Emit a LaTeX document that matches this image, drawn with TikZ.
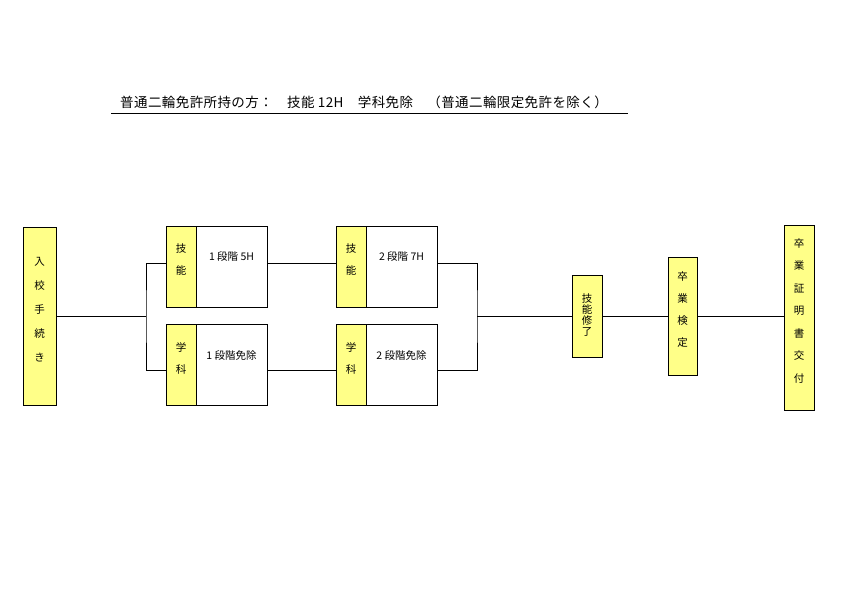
\documentclass[tikz,border=0pt]{standalone}
\usepackage{fontspec}
\setmainfont{Noto Sans CJK JP}
\definecolor{kiiro}{RGB}{255,255,136}

\begin{document}
\begin{tikzpicture}[x=1pt,y=-1pt,line width=0.7pt,
	kbox/.style={draw, fill=kiiro, align=center, inner sep=0pt, text depth=14pt},
	sbox/.style={draw, fill=white, minimum width=71pt, minimum height=81pt, inner sep=0pt},
	dan/.style={anchor=center, yshift=-31pt, font=\fontsize{10.5}{12}\selectfont}]
\useasboundingbox (0,0) rectangle (842,595);

% title
\node (title) at (364,102) {\fontsize{13.5}{15}\selectfont\addfontfeature{LetterSpace=3} 普通二輪免許所持の方：　技能 12H　学科免除　（普通二輪限定免許を除く）};
\draw (111,113) -- (628,113);

\node[kbox, minimum width=33pt, minimum height=178pt, font=\fontsize{10.5}{24}\selectfont] (nyuko) at (39.5,316) {入\\校\\手\\続\\き};

% 1 dankai
\node[sbox, label={[dan]north:1 段階 5H}] (g1) at (231.5,266.5) {};
\node[kbox, minimum width=30pt, minimum height=81pt, font=\fontsize{10.5}{22}\selectfont] (g1y) at (181,266.5) {技\\能};
\node[sbox, label={[dan]north:1 段階免除}] (k1) at (231.5,365) {};
\node[kbox, minimum width=30pt, minimum height=81pt, font=\fontsize{10.5}{22}\selectfont] (k1y) at (181,365) {学\\科};

% 2 dankai
\node[sbox, label={[dan]north:2 段階 7H}] (g2) at (401.5,266.5) {};
\node[kbox, minimum width=30pt, minimum height=81pt, font=\fontsize{10.5}{22}\selectfont] (g2y) at (351,266.5) {技\\能};
\node[sbox, label={[dan]north:2 段階免除}] (k2) at (401.5,365) {};
\node[kbox, minimum width=30pt, minimum height=81pt, font=\fontsize{10.5}{22}\selectfont] (k2y) at (351,365) {学\\科};

\node[kbox, minimum width=30pt, minimum height=82pt, text depth=2pt, font=\fontsize{10.5}{11}\selectfont] (shuryo) at (587,316) {技\\能\\修\\了};
\node[kbox, minimum width=29pt, minimum height=118pt, font=\fontsize{10.5}{22}\selectfont] (kentei) at (682.5,316) {卒\\業\\検\\定};
\node[kbox, minimum width=30pt, minimum height=185pt, font=\fontsize{10.5}{22.5}\selectfont] (shosho) at (799,317.5) {卒\\業\\証\\明\\書\\交\\付};

% connectors
\coordinate (bunki) at (146,316);
\coordinate (goryu) at (477,316);
\draw (nyuko.east) -- (bunki);
\draw ([yshift=3.5pt]g1y.west) -| (bunki) |- ([yshift=-5pt]k1y.west);
\draw ([yshift=3.5pt]g1.east) -- ([yshift=3.5pt]g2y.west);
\draw ([yshift=-5pt]k1.east) -- ([yshift=-5pt]k2y.west);
\draw ([yshift=3.5pt]g2.east) -| (goryu) |- ([yshift=-5pt]k2.east);
\draw (goryu) -- (shuryo.west);
\draw (shuryo.east) -- (kentei.west);
\draw (kentei.east) -- (shosho.west |- kentei.east);
\end{tikzpicture}
\end{document}
